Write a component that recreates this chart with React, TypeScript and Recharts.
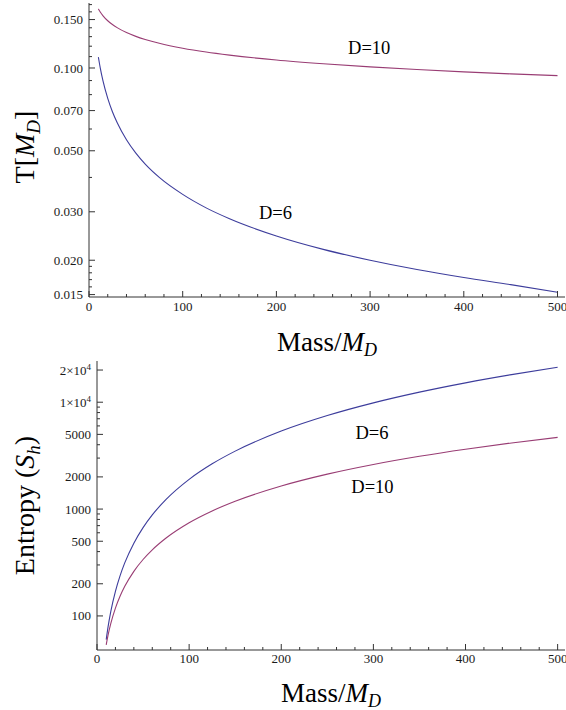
import React from 'react';
import { LineChart, Line, XAxis, YAxis, Label, ReferenceDot } from 'recharts';

// ---------- data ----------
const mass = [10, 12, 15, 20, 25, 30, 40, 50, 60, 75, 100, 125, 150, 200, 250, 300, 350, 400, 450, 500];
const tempD6 = [0.1096, 0.1001, 0.0895, 0.0775, 0.0693, 0.0633, 0.0548, 0.049, 0.0447, 0.04, 0.0347, 0.031, 0.0283, 0.0245, 0.0219, 0.02, 0.0185, 0.0173, 0.0163, 0.0153];
const tempD10 = [0.164, 0.1598, 0.1548, 0.1485, 0.1439, 0.1402, 0.1345, 0.1303, 0.127, 0.123, 0.118, 0.1143, 0.1114, 0.1069, 0.1036, 0.1009, 0.0987, 0.0968, 0.0952, 0.0938];
const entropyD6 = [60, 78.9, 110.2, 169.7, 237.2, 311.8, 480, 670.8, 881.8, 1232, 1897, 2652, 3486, 5367, 7500, 9859, 12423, 15179, 18112, 21213];
const entropyD10 = [53.6, 66.0, 85.2, 118.4, 152.7, 188.1, 261.4, 337.3, 415.5, 536, 745, 961, 1184, 1644, 2123, 2614, 3118, 3632, 4156, 4688];

const massDomain = [0, 508];
const massTicksMajor = [0, 100, 200, 300, 400, 500];
const massTicksMinor = [20, 40, 60, 80, 120, 140, 160, 180, 220, 240, 260, 280, 320, 340, 360, 380, 420, 440, 460, 480];

const tempDomain = [0.0147, 0.1723];
const tempTicksMajor = [0.015, 0.02, 0.03, 0.05, 0.07, 0.1, 0.15];
const tempTickLabels = ['0.015', '0.020', '0.030', '0.050', '0.070', '0.100', '0.150'];
const tempTicksMinor = [0.016, 0.017, 0.018, 0.019, 0.04, 0.06, 0.08, 0.09, 0.11, 0.12, 0.13, 0.14, 0.16, 0.17];

const entropyDomain = [48, 24300];
const entropyTicksMajor = [100, 200, 500, 1000, 2000, 5000, 10000, 20000];
const entropyTicksMinor = [300, 400, 600, 700, 800, 900, 3000, 4000, 6000, 7000, 8000, 9000];

const seriesNames = ['D=6', 'D=10'];

// ---------- styling ----------
const FONT = '"Liberation Serif", "Times New Roman", Times, serif';
const COLOR_D6 = '#3d3d9c';
const COLOR_D10 = '#993d74';
const FRAME = '#333';

const tempData = mass.map((m, i) => ({ m, t6: tempD6[i], t10: tempD10[i] }));
const entropyData = mass.map((m, i) => ({ m, s6: entropyD6[i], s10: entropyD10[i] }));

type Side = 'bottom' | 'top' | 'left' | 'right';

function isIn(list: number[], v: number) {
  return list.some((m) => Math.abs(m - v) <= Math.abs(m) * 1e-6 + 1e-12);
}

const tickTextStyle: React.CSSProperties = { fontFamily: FONT, fontSize: 13, fill: '#1a1a1a' };

function makeTick(side: Side, majors: number[], labelFn: ((v: number) => React.ReactNode) | null, labelOffset = 0) {
  return function Tick(props: any) {
    const { x, y, payload } = props;
    const v = Number(payload.value);
    const major = isIn(majors, v);
    const len = major ? 6 : 3;
    let line: React.ReactNode = null;
    if (side === 'bottom') line = <line x1={x} y1={y} x2={x} y2={y - len} stroke={FRAME} strokeWidth={1} />;
    if (side === 'top') line = <line x1={x} y1={y} x2={x} y2={y + len} stroke={FRAME} strokeWidth={1} />;
    if (side === 'left') line = <line x1={x} y1={y} x2={x + len} y2={y} stroke={FRAME} strokeWidth={1} />;
    if (side === 'right') line = <line x1={x} y1={y} x2={x - len} y2={y} stroke={FRAME} strokeWidth={1} />;
    let label: React.ReactNode = null;
    if (major && labelFn) {
      const content = labelFn(v);
      if (side === 'bottom') {
        label = (
          <text x={x} y={y + labelOffset} textAnchor="middle" style={tickTextStyle}>
            {content}
          </text>
        );
      } else if (side === 'left') {
        label = (
          <text x={x - labelOffset} y={y} dy="0.35em" textAnchor="end" style={tickTextStyle}>
            {content}
          </text>
        );
      }
    }
    return (
      <g>
        {line}
        {label}
      </g>
    );
  };
}

const massLabelFn = (v: number) => String(v);
const tempLabelFn = (v: number) => {
  const i = tempTicksMajor.findIndex((t) => Math.abs(t - v) < 1e-9);
  return i >= 0 ? tempTickLabels[i] : '';
};
const entropyLabelFn = (v: number): React.ReactNode => {
  if (v >= 10000) {
    const mant = Math.round(v / 10000);
    return (
      <>
        {mant}×10
        <tspan dy={-5} style={{ fontSize: 9 }}>4</tspan>
      </>
    );
  }
  return String(v);
};

const titleStyle: React.CSSProperties = { fontFamily: FONT, fontSize: 27, fill: '#000' };

function MassTitle(baseline: number) {
  return (props: any) => {
    const vb = props.viewBox || {};
    const cx = vb.x + vb.width / 2;
    const y = vb.y + baseline;
    return (
      <text x={cx} y={y} textAnchor="middle" style={titleStyle}>
        Mass/<tspan fontStyle="italic">M</tspan>
        <tspan fontStyle="italic" style={{ fontSize: 18 }} dy={5}>D</tspan>
      </text>
    );
  };
}

function TempTitle(props: any) {
  const vb = props.viewBox || {};
  const bx = vb.x + 34;
  const cy = vb.y + vb.height / 2 - 3;
  return (
    <text x={bx} y={cy} transform={`rotate(-90 ${bx} ${cy})`} textAnchor="middle" style={{ ...titleStyle, fontSize: 28 }}>
      T[<tspan fontStyle="italic">M</tspan>
      <tspan fontStyle="italic" style={{ fontSize: 19 }} dy={6}>D</tspan>
      <tspan dy={-6}>]</tspan>
    </text>
  );
}

function EntropyTitle(props: any) {
  const vb = props.viewBox || {};
  const bx = vb.x + 34;
  const cy = vb.y + vb.height / 2;
  return (
    <text x={bx} y={cy} transform={`rotate(-90 ${bx} ${cy})`} textAnchor="middle" style={{ ...titleStyle, fontSize: 28 }}>
      Entropy (<tspan fontStyle="italic">S</tspan>
      <tspan fontStyle="italic" style={{ fontSize: 19 }} dy={6}>h</tspan>
      <tspan dy={-6}>)</tspan>
    </text>
  );
}

const annotStyle = { fontFamily: FONT, fontSize: 18.5, fill: '#000' };

const massTicks = [...massTicksMajor, ...massTicksMinor].sort((a, b) => a - b);
const tempTicks = [...tempTicksMajor, ...tempTicksMinor].sort((a, b) => a - b);
const entropyTicks = [...entropyTicksMajor, ...entropyTicksMinor].sort((a, b) => a - b);

export default function App() {
  return (
    <div style={{ position: 'absolute', left: 0, top: 0, width: 566, height: 710, background: '#fff', overflow: 'hidden' }}>
      <div style={{ position: 'absolute', left: 0, top: 0 }}>
        <LineChart width={566} height={364} data={tempData} margin={{ top: 3, right: 1, left: 0, bottom: 0 }}>
          <XAxis
            dataKey="m"
            type="number"
            domain={massDomain}
            allowDataOverflow
            ticks={massTicks}
            interval={0}
            height={67}
            tickSize={0}
            tickMargin={0}
            tickLine={false}
            axisLine={{ stroke: FRAME, strokeWidth: 1 }}
            tick={makeTick('bottom', massTicksMajor, massLabelFn, 14)}
          >
            <Label content={MassTitle(54)} />
          </XAxis>
          <XAxis
            xAxisId="top"
            orientation="top"
            dataKey="m"
            type="number"
            domain={massDomain}
            allowDataOverflow
            ticks={massTicks}
            interval={0}
            height={0}
            tickSize={0}
            tickMargin={0}
            tickLine={false}
            axisLine={{ stroke: FRAME, strokeWidth: 1 }}
            tick={makeTick('top', massTicksMajor, null)}
          />
          <YAxis
            type="number"
            scale="log"
            domain={tempDomain}
            allowDataOverflow
            ticks={tempTicks}
            interval={0}
            width={89}
            tickSize={0}
            tickMargin={0}
            tickLine={false}
            axisLine={{ stroke: FRAME, strokeWidth: 1 }}
            tick={makeTick('left', tempTicksMajor, tempLabelFn, 6)}
          >
            <Label content={TempTitle} />
          </YAxis>
          <YAxis
            yAxisId="right"
            orientation="right"
            type="number"
            scale="log"
            domain={tempDomain}
            allowDataOverflow
            ticks={tempTicks}
            interval={0}
            width={0}
            tickSize={0}
            tickMargin={0}
            tickLine={false}
            axisLine={{ stroke: FRAME, strokeWidth: 1 }}
            tick={makeTick('right', tempTicksMajor, null)}
          />
          <Line dataKey="t6" name={seriesNames[0]} type="monotone" stroke={COLOR_D6} strokeWidth={1.1} dot={false} isAnimationActive={false} />
          <Line dataKey="t10" name={seriesNames[1]} type="monotone" stroke={COLOR_D10} strokeWidth={1.1} dot={false} isAnimationActive={false} />
          <ReferenceDot x={299} y={0.119} r={0} fill="none" stroke="none" label={{ value: seriesNames[1], position: 'center', ...annotStyle }} />
          <ReferenceDot x={199} y={0.0298} r={0} fill="none" stroke="none" label={{ value: seriesNames[0], position: 'center', ...annotStyle }} />
        </LineChart>
      </div>

      <div style={{ position: 'absolute', left: 0, top: 356 }}>
        <LineChart width={566} height={354} data={entropyData} margin={{ top: 5, right: 1, left: 0, bottom: 0 }}>
          <XAxis
            dataKey="m"
            type="number"
            domain={massDomain}
            allowDataOverflow
            ticks={massTicks}
            interval={0}
            height={60}
            tickSize={0}
            tickMargin={0}
            tickLine={false}
            axisLine={{ stroke: FRAME, strokeWidth: 1 }}
            tick={makeTick('bottom', massTicksMajor, massLabelFn, 13)}
          >
            <Label content={MassTitle(52)} />
          </XAxis>
          <XAxis
            xAxisId="top"
            orientation="top"
            dataKey="m"
            type="number"
            domain={massDomain}
            allowDataOverflow
            ticks={massTicks}
            interval={0}
            height={0}
            tickSize={0}
            tickMargin={0}
            tickLine={false}
            axisLine={{ stroke: FRAME, strokeWidth: 1 }}
            tick={makeTick('top', massTicksMajor, null)}
          />
          <YAxis
            type="number"
            scale="log"
            domain={entropyDomain}
            allowDataOverflow
            ticks={entropyTicks}
            interval={0}
            width={97}
            tickSize={0}
            tickMargin={0}
            tickLine={false}
            axisLine={{ stroke: FRAME, strokeWidth: 1 }}
            tick={makeTick('left', entropyTicksMajor, entropyLabelFn, 6)}
          >
            <Label content={EntropyTitle} />
          </YAxis>
          <YAxis
            yAxisId="right"
            orientation="right"
            type="number"
            scale="log"
            domain={entropyDomain}
            allowDataOverflow
            ticks={entropyTicks}
            interval={0}
            width={0}
            tickSize={0}
            tickMargin={0}
            tickLine={false}
            axisLine={{ stroke: FRAME, strokeWidth: 1 }}
            tick={makeTick('right', entropyTicksMajor, null)}
          />
          <Line dataKey="s6" name={seriesNames[0]} type="monotone" stroke={COLOR_D6} strokeWidth={1.1} dot={false} isAnimationActive={false} />
          <Line dataKey="s10" name={seriesNames[1]} type="monotone" stroke={COLOR_D10} strokeWidth={1.1} dot={false} isAnimationActive={false} />
          <ReferenceDot x={298.5} y={5188} r={0} fill="none" stroke="none" label={{ value: seriesNames[0], position: 'center', ...annotStyle }} />
          <ReferenceDot x={299} y={1623} r={0} fill="none" stroke="none" label={{ value: seriesNames[1], position: 'center', ...annotStyle }} />
        </LineChart>
      </div>
    </div>
  );
}
